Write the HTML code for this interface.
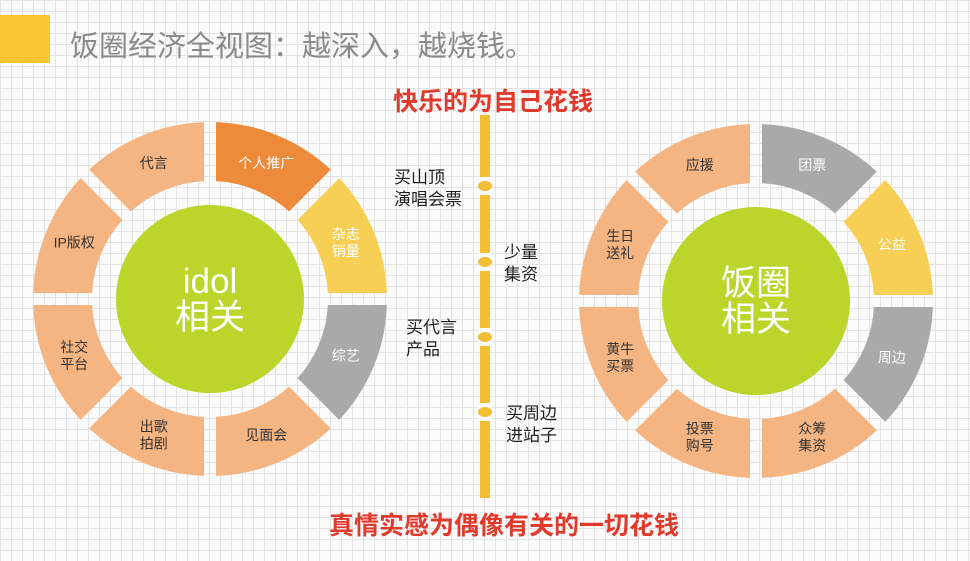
<!DOCTYPE html>
<html><head><meta charset="utf-8"><style>
html,body{margin:0;padding:0}
body{width:970px;height:561px;overflow:hidden;position:relative;font-family:"Liberation Sans","Noto Sans CJK SC",sans-serif;
background-color:#fbfbfb;background-image:linear-gradient(#e3e3e3 1px,transparent 1px),linear-gradient(90deg,#e3e3e3 1px,transparent 1px);background-size:11px 11px}
.t{position:absolute;white-space:nowrap}
</style></head><body>
<div style="position:absolute;left:0;top:15px;width:50px;height:48px;background:#F8C630"></div>
<div class="t" style="left:70px;top:23px;font-size:29px;color:#8a8a8a">饭圈经济全视图：越深入，越烧钱。</div>
<div class="t" style="left:393px;top:82px;font-size:25px;color:#E03A2C;font-weight:bold">快乐的为自己花钱</div>
<div class="t" style="left:329px;top:506px;font-size:25px;color:#E03A2C;font-weight:bold">真情实感为偶像有关的一切花钱</div>
<svg id="s" width="970" height="561" style="position:absolute;left:0;top:0"></svg>
<script>
var s=document.getElementById('s'),h='';
function P(cx,cy,r,a){a=a*Math.PI/180;return [cx+r*Math.sin(a),cy-r*Math.cos(a)];}
function ring(cx,cy,items,center){
 var R=177,r=118,g=6;
 items.forEach(function(it,i){
  var a1=i*45,a2=a1+45,dO=Math.asin(g/R)*180/Math.PI,dI=Math.asin(g/r)*180/Math.PI;
  var p1=P(cx,cy,R,a1+dO),p2=P(cx,cy,R,a2-dO),p3=P(cx,cy,r,a2-dI),p4=P(cx,cy,r,a1+dI);
  h+='<path d="M'+p1+' A'+R+','+R+' 0 0 1 '+p2+' L'+p3+' A'+r+','+r+' 0 0 0 '+p4+' Z" fill="'+it[1]+'"/>';
  var m=P(cx,cy,147,a1+22.5),lines=it[0].split('|'),col=it[2]||'#333';
  lines.forEach(function(l,k){
   var y=m[1]+(k-(lines.length-1)/2)*17+5;
   h+='<text x="'+m[0]+'" y="'+y+'" font-size="14" fill="'+col+'" text-anchor="middle">'+l+'</text>';
  });
 });
 h+='<circle cx="'+cx+'" cy="'+cy+'" r="94" fill="#BCD52B"/>';
 center.forEach(function(l,k){
  h+='<text x="'+cx+'" y="'+(cy-6+k*36)+'" font-size="35" fill="#fff" text-anchor="middle">'+l+'</text>';
 });
}
var pe='#F4B583',og='#EE8B3B',ye='#F8CF55',gr='#A9A9A9';
ring(210,299,[['个人推广',og,'#fff'],['杂志|销量',ye,'#fff'],['综艺',gr,'#fff'],['见面会',pe],['出歌|拍剧',pe],['社交|平台',pe],['IP版权',pe],['代言',pe]],['idol','相关']);
ring(756,301,[['团票',gr,'#fff'],['公益',ye,'#fff'],['周边',gr,'#fff'],['众筹|集资',pe],['投票|购号',pe],['黄牛|买票',pe],['生日|送礼',pe],['应援',pe]],['饭圈','相关']);
h+='<rect x="480" y="115" width="10" height="383" fill="#F2BE35"/>';
[186,262,337,412].forEach(function(y){
 h+='<rect x="478" y="'+(y-9)+'" width="14" height="18" fill="#fbfbfb"/><ellipse cx="485" cy="'+y+'" rx="7" ry="5" fill="#F2BE35"/>';
});
var L=[[394,183,['买山顶','演唱会票']],[504,258,['少量','集资']],[406,333,['买代言','产品']],[506,419,['买周边','进站子']]];
L.forEach(function(o){o[2].forEach(function(t,k){h+='<text x="'+o[0]+'" y="'+(o[1]+k*22)+'" font-size="17" fill="#222">'+t+'</text>';});});
s.innerHTML=h;
</script>
</body></html>
